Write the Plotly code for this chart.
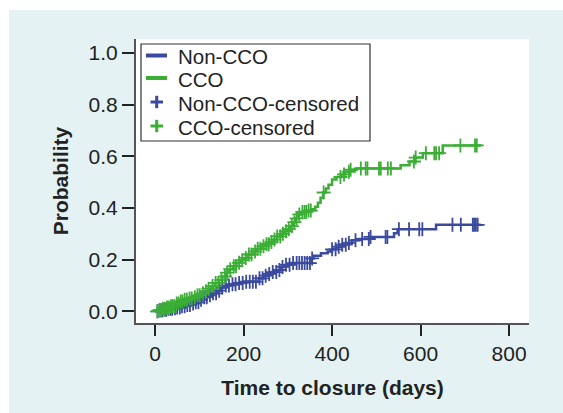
import numpy as np
import plotly.graph_objects as go

# ---- data ----
noncco_t = [0, 10, 20, 30, 40, 50, 60, 70, 80, 90, 100, 110, 120, 130, 140, 150, 160, 170, 185, 200,
            235, 245, 255, 265, 275, 285, 295, 305, 352, 358, 375, 390, 400, 410, 420, 432, 445, 460,
            485, 540, 548, 635, 736]
noncco_p = [0, 0.003, 0.006, 0.01, 0.012, 0.015, 0.02, 0.025, 0.03, 0.035, 0.045, 0.055, 0.062, 0.07,
            0.08, 0.092, 0.1, 0.105, 0.11, 0.115, 0.128, 0.138, 0.145, 0.152, 0.16, 0.172, 0.18, 0.187,
            0.205, 0.215, 0.225, 0.232, 0.24, 0.25, 0.258, 0.265, 0.275, 0.28, 0.288, 0.302, 0.318,
            0.335, 0.335]

cco_t = [0, 8, 15, 25, 35, 45, 55, 65, 75, 85, 95, 105, 112, 120, 128, 136, 144, 152, 160, 168, 176,
         184, 192, 200, 210, 220, 230, 240, 250, 260, 268, 276, 284, 292, 300, 306, 312, 318, 324, 330,
         345, 355, 362, 368, 374, 380, 386, 392, 400, 410, 420, 430, 440, 455, 555, 575, 588, 605, 650,
         736]
cco_p = [0, 0.005, 0.01, 0.015, 0.02, 0.03, 0.038, 0.045, 0.05, 0.055, 0.062, 0.07, 0.078, 0.088,
         0.098, 0.11, 0.122, 0.135, 0.15, 0.163, 0.175, 0.188, 0.198, 0.207, 0.22, 0.232, 0.242, 0.252,
         0.26, 0.268, 0.278, 0.29, 0.3, 0.31, 0.318, 0.33, 0.345, 0.36, 0.375, 0.385, 0.39, 0.395,
         0.405, 0.42, 0.44, 0.46, 0.475, 0.49, 0.51, 0.52, 0.53, 0.54, 0.548, 0.553, 0.565, 0.58, 0.595,
         0.612, 0.642, 0.642]

noncco_cens = [6, 11, 16, 21, 25, 30, 35, 39, 45, 50, 56, 61, 67, 73, 79, 86, 92, 98, 104, 111, 117,
               124, 131, 138, 145, 152, 160, 167, 175, 182, 190, 198, 206, 214, 221, 228, 236, 243,
               250, 258, 266, 274, 281, 288, 296, 304, 312, 320, 326, 332, 338, 344, 350, 355, 400,
               408, 415, 423, 431, 438, 453, 468, 483, 487, 521, 525, 551, 574, 597, 604, 672, 691,
               718, 721, 725, 729]
cco_cens = [5, 10, 14, 18, 22, 27, 31, 36, 40, 44, 49, 53, 58, 62, 67, 72, 78, 83, 90, 96, 101, 108,
            115, 121, 130, 137, 143, 150, 158, 163, 170, 178, 183, 190, 197, 205, 212, 218, 226, 232,
            238, 245, 252, 257, 263, 270, 276, 283, 289, 296, 302, 309, 315, 320, 326, 333, 338, 342,
            347, 352, 381, 419, 427, 438, 442, 465, 476, 480, 506, 510, 526, 533, 585, 589, 612, 631,
            635, 642, 690, 723, 727]

legend_names = ["Non-CCO", "CCO", "Non-CCO-censored", "CCO-censored"]

BLUE = "#3b4a9e"
GREEN = "#3bae35"
PANEL = "#e4f2f3"
TXT = "#222222"


def at(ts, ps, c):
    i = np.searchsorted(np.array(ts), np.array(c), side="right") - 1
    return np.array(ps)[i]


fig = go.Figure()
fig.add_trace(go.Scatter(x=noncco_t, y=noncco_p, mode="lines", line=dict(color=BLUE, width=2.5, shape="hv"),
                         name=legend_names[0]))
fig.add_trace(go.Scatter(x=cco_t, y=cco_p, mode="lines", line=dict(color=GREEN, width=2.5, shape="hv"),
                         name=legend_names[1]))
fig.add_trace(go.Scatter(x=noncco_cens, y=at(noncco_t, noncco_p, noncco_cens), mode="markers",
                         marker=dict(symbol="cross-thin", size=10, line=dict(color=BLUE, width=1.8)),
                         name=legend_names[2]))
fig.add_trace(go.Scatter(x=cco_cens, y=at(cco_t, cco_p, cco_cens), mode="markers",
                         marker=dict(symbol="cross-thin", size=10, line=dict(color=GREEN, width=1.8)),
                         name=legend_names[3]))

W, H = 563, 413
L, R, T, B = 136, 34, 39, 90
pw, ph = W - L - R, H - T - B


def px(x):
    return (x - L) / pw


def py(y):
    return (H - B - y) / ph


shapes = [
    # white outer strips (page border around the light panel)
    dict(type="rect", xref="paper", yref="paper", x0=px(-5), x1=px(9), y0=py(H + 5), y1=py(-5),
         fillcolor="white", line=dict(width=0)),
    dict(type="rect", xref="paper", yref="paper", x0=px(-5), x1=px(W + 5), y0=py(10), y1=py(-5),
         fillcolor="white", line=dict(width=0)),
    # legend box
    dict(type="rect", xref="paper", yref="paper", x0=px(141), x1=px(370), y0=py(141), y1=py(44),
         fillcolor="white", line=dict(color="#333", width=1.2)),
]
annotations = []
rows = [55.5, 78, 102, 126]
colors = [BLUE, GREEN, BLUE, GREEN]
for k, (name, yc, c) in enumerate(zip(legend_names, rows, colors)):
    if k < 2:
        shapes.append(dict(type="line", xref="paper", yref="paper", x0=px(146), x1=px(167),
                           y0=py(yc), y1=py(yc), line=dict(color=c, width=4)))
    else:
        shapes.append(dict(type="line", xref="paper", yref="paper", x0=px(150.5), x1=px(163),
                           y0=py(yc), y1=py(yc), line=dict(color=c, width=3)))
        shapes.append(dict(type="line", xref="paper", yref="paper", x0=px(156.7), x1=px(156.7),
                           y0=py(yc - 6.2), y1=py(yc + 6.2), line=dict(color=c, width=3)))
    annotations.append(dict(xref="paper", yref="paper", x=px(176), y=py(yc + 1), text=name,
                            showarrow=False, xanchor="left", yanchor="middle",
                            font=dict(size=20.5, color=TXT)))

fig.update_layout(
    width=W, height=H,
    margin=dict(l=L, r=R, t=T, b=B, pad=0),
    paper_bgcolor=PANEL,
    plot_bgcolor="white",
    font=dict(family="Liberation Sans, Arial, Helvetica, sans-serif", size=21, color=TXT),
    showlegend=False,
    xaxis=dict(range=[-43, 845], tickvals=[0, 200, 400, 600, 800], ticks="outside", ticklen=11,
               tickwidth=2, tickcolor=TXT, showline=True, linewidth=2, linecolor="#555",
               showgrid=False, zeroline=False, tickfont=dict(size=21),
               title=dict(text="<b>Time to closure (days)</b>", font=dict(size=21), standoff=16)),
    yaxis=dict(range=[-0.045, 1.054], tickvals=[0, 0.2, 0.4, 0.6, 0.8, 1.0], tickformat=".1f",
               ticks="outside", ticklen=12, tickwidth=2, tickcolor=TXT, showline=True,
               linewidth=2, linecolor="#555", showgrid=False, zeroline=False, tickfont=dict(size=21),
               title=dict(text="<b>Probability</b>", font=dict(size=21), standoff=14)),
    shapes=shapes,
    annotations=annotations,
)

fig.write_html("out.html", config={"displayModeBar": False},
               post_script="document.body.style.margin='0';document.body.style.overflow='hidden';")
